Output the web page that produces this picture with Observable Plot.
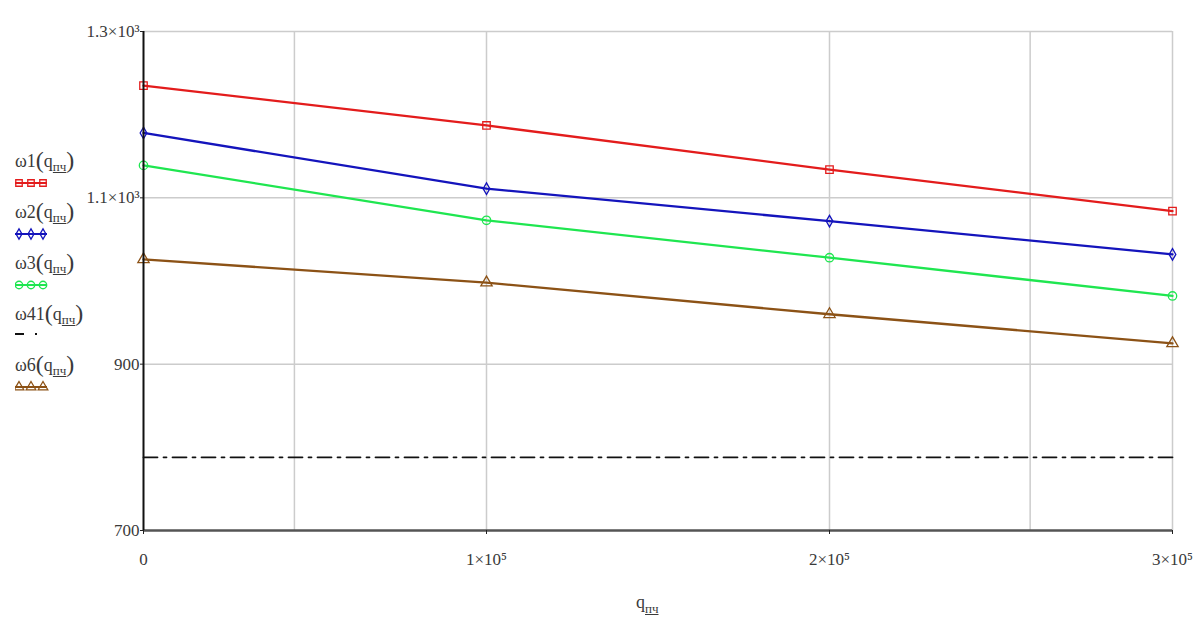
<!DOCTYPE html>
<html>
<head>
<meta charset="utf-8">
<script src="https://cdn.jsdelivr.net/npm/d3@7"></script>
<script src="https://cdn.jsdelivr.net/npm/@observablehq/plot@0.6"></script>
<style>
  body { margin: 0; background: #fff; }
  #wrap { position: relative; width: 1204px; height: 638px; overflow: hidden; font-family: "Liberation Serif", "DejaVu Serif", serif; color: #3a3a3a; }
  #legend { position: absolute; left: 15px; top: 147px; width: 90px; }
  .lg-text { height: 26px; line-height: 26px; font-size: 18px; white-space: nowrap; }
  .lg-text sub { font-size: 13px; vertical-align: -4px; text-decoration: underline; text-decoration-thickness: 1px; }
  .lg-text .par { font-size: 24px; vertical-align: -1px; font-weight: 300; }
  .lg-sample { height: 25px; display: block; }
  #xlabel { position: absolute; left: 0; top: 585px; width: 1204px; }
  #xlabel span { position: absolute; left: 636px; top: 7px; font-size: 18px; }
  #xlabel sub { font-size: 13px; text-decoration: underline; }
  #plot svg g[aria-label="x-axis tick label"] text,
  #plot svg g[aria-label="y-axis tick label"] text { font-family: "Liberation Serif", serif !important; font-size: 17px !important; fill: #3a3a3a; }
</style>
</head>
<body>
<div id="wrap">
  <div id="plot"></div>
  <div id="legend"></div>
  <div id="xlabel"><span>q<sub>пч</sub></span></div>
</div>
<script>
// ---- data ----
const xs = [0, 100000, 200000, 300000];
const w1 = [1235, 1187, 1134, 1084];
const w2 = [1178, 1111, 1072, 1032];
const w3 = [1139, 1073, 1028, 982];
const w41 = [788, 788, 788, 788];
const w6 = [1026, 998, 960, 925];
const seriesNames = ["ω1", "ω2", "ω3", "ω41", "ω6"];
const xTicks = [0, 100000, 200000, 300000];
const xTickLabels = ["0", "1×10⁵", "2×10⁵", "3×10⁵"];
const yTicks = [700, 900, 1100, 1300];
const yTickLabels = ["700", "900", "1.1×10³", "1.3×10³"];
const xGrid = [44000, 100000, 200000, 258500, 300000];
const yGrid = [900, 1100, 1300];

// ---- styles ----
const styles = {
  "ω1": {color: "#e31c1c", symbol: "square", dash: null},
  "ω2": {color: "#1414bc", symbol: "diamond", dash: null},
  "ω3": {color: "#1fe650", symbol: "circle", dash: null},
  "ω41": {color: "#111111", symbol: null, dash: "14,6,3,6"},
  "ω6": {color: "#8c5216", symbol: "triangle", dash: null}
};
const seriesValues = [w1, w2, w3, w41, w6];
const rows = seriesNames.flatMap((name, k) => xs.map((x, i) => ({name, x, y: seriesValues[k][i]})));

const lineMarks = seriesNames.map(name => Plot.line(rows.filter(d => d.name === name), {
  x: "x", y: "y", stroke: styles[name].color, strokeWidth: name === "ω41" ? 1.8 : 2.3,
  strokeDasharray: styles[name].dash
}));
const dotMarks = seriesNames.filter(n => styles[n].symbol).map(name => Plot.dot(rows.filter(d => d.name === name), {
  x: "x", y: "y", symbol: () => styles[name].symbol, stroke: styles[name].color, fill: "none",
  strokeWidth: 1.3, r: name === "ω2" ? 3.5 : 4.2
}));

const chart = Plot.plot({
  width: 1204,
  height: 585,
  marginLeft: 143,
  marginRight: 32,
  marginTop: 31,
  marginBottom: 55,
  style: {fontFamily: "'Liberation Serif', serif", fontSize: "16px", background: "white", color: "#3a3a3a"},
  x: {domain: [0, 300000]},
  y: {domain: [700, 1300]},
  symbol: {type: "identity"},
  marks: [
    Plot.gridX(xGrid, {stroke: "#cccccc", strokeOpacity: 1, strokeWidth: 1.5}),
    Plot.gridY(yGrid, {stroke: "#cccccc", strokeOpacity: 1, strokeWidth: 1.5}),
    ...lineMarks,
    ...dotMarks,
    Plot.ruleY([700], {stroke: "#555", strokeWidth: 2.5}),
    Plot.ruleX([0], {stroke: "#111", strokeWidth: 2}),
    Plot.axisX({ticks: xTicks, tickFormat: d => xTickLabels[xTicks.indexOf(d)], tickSize: 4, tickPadding: 18, label: null, stroke: "#222"}),
    Plot.axisY({ticks: yTicks, tickFormat: d => yTickLabels[yTicks.indexOf(d)], tickSize: 3, tickPadding: 1, label: null, stroke: "#222"})
  ]
});
document.getElementById("plot").appendChild(chart);

// ---- legend ----
const legend = document.getElementById("legend");
const symPath = {
  square: d3.symbol(d3.symbolSquare, 42)(),
  diamond: d3.symbol(d3.symbolDiamond, 30)(),
  circle: d3.symbol(d3.symbolCircle, 44)(),
  triangle: d3.symbol(d3.symbolTriangle, 40)()
};
seriesNames.forEach(name => {
  const st = styles[name];
  const t = document.createElement("div");
  t.className = "lg-text";
  t.innerHTML = name + '<span class="par">(</span>q<sub>пч</sub><span class="par">)</span>';
  legend.appendChild(t);
  const svg = d3.create("svg").attr("class", "lg-sample").attr("width", 40).attr("height", 25);
  if (st.symbol) {
    svg.append("line").attr("x1", 0).attr("x2", 32).attr("y1", 10).attr("y2", 10)
      .attr("stroke", st.color).attr("stroke-width", 2);
    [4, 16, 28].forEach(cx => svg.append("path").attr("d", symPath[st.symbol])
      .attr("transform", `translate(${cx},10)`).attr("fill", "none").attr("stroke", st.color).attr("stroke-width", 1.3));
  } else {
    svg.append("line").attr("x1", 0).attr("x2", 32).attr("y1", 8).attr("y2", 8)
      .attr("stroke", st.color).attr("stroke-width", 1.8).attr("stroke-dasharray", "9,11,2,20");
  }
  legend.appendChild(svg.node());
});
</script>
</body>
</html>
